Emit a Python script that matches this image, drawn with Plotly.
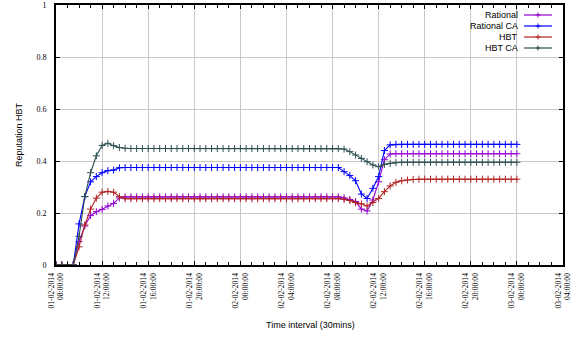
import pandas as pd
import plotly.graph_objects as go

# ---- data ----
start_time = "2014-02-01 08:00:00"
n_points = 81  # half-hour samples, 08:00 day 1 -> 00:00 day 3

rational = [0, 0, 0, 0, 0.09, 0.15, 0.19, 0.205, 0.214, 0.227, 0.237, 0.258,
            0.262, 0.262, 0.262, 0.262, 0.262, 0.262, 0.262, 0.262, 0.262, 0.262,
            0.262, 0.262, 0.262, 0.262, 0.262, 0.262, 0.262, 0.262, 0.262, 0.262,
            0.262, 0.262, 0.262, 0.262, 0.262, 0.262, 0.262, 0.262, 0.262, 0.262,
            0.262, 0.262, 0.262, 0.262, 0.262, 0.262, 0.262, 0.262,
            0.258, 0.252, 0.244, 0.215, 0.208, 0.25, 0.32, 0.405, 0.427,
            0.428, 0.428, 0.428, 0.428, 0.428, 0.428, 0.428, 0.428, 0.428, 0.428,
            0.428, 0.428, 0.428, 0.428, 0.428, 0.428, 0.428, 0.428, 0.428, 0.428,
            0.428, 0.428]

rational_ca = [0, 0, 0, 0, 0.158, 0.263, 0.32, 0.34, 0.355, 0.363, 0.365, 0.374,
               0.375, 0.375, 0.375, 0.375, 0.375, 0.375, 0.375, 0.375, 0.375, 0.375,
               0.375, 0.375, 0.375, 0.375, 0.375, 0.375, 0.375, 0.375, 0.375, 0.375,
               0.375, 0.375, 0.375, 0.375, 0.375, 0.375, 0.375, 0.375, 0.375, 0.375,
               0.375, 0.375, 0.375, 0.375, 0.375, 0.375, 0.375, 0.375,
               0.359, 0.344, 0.324, 0.273, 0.256, 0.295, 0.34, 0.44, 0.462,
               0.464, 0.464, 0.464, 0.464, 0.464, 0.464, 0.464, 0.464, 0.464, 0.464,
               0.464, 0.464, 0.464, 0.464, 0.464, 0.464, 0.464, 0.464, 0.464, 0.464,
               0.464, 0.464]

hbt = [0, 0, 0, 0, 0.07, 0.154, 0.215, 0.257, 0.28, 0.283, 0.28, 0.263,
       0.255, 0.255, 0.255, 0.255, 0.255, 0.255, 0.255, 0.255, 0.255, 0.255,
       0.255, 0.255, 0.255, 0.255, 0.255, 0.255, 0.255, 0.255, 0.255, 0.255,
       0.255, 0.255, 0.255, 0.255, 0.255, 0.255, 0.255, 0.255, 0.255, 0.255,
       0.255, 0.255, 0.255, 0.255, 0.255, 0.255, 0.255, 0.255,
       0.252, 0.248, 0.24, 0.235, 0.227, 0.24, 0.256, 0.282, 0.304,
       0.318, 0.324, 0.327, 0.329, 0.33, 0.33, 0.33, 0.33, 0.33, 0.33,
       0.33, 0.33, 0.33, 0.33, 0.33, 0.33, 0.33, 0.33, 0.33, 0.33,
       0.33, 0.33]

hbt_ca = [0, 0, 0, 0, 0.11, 0.263, 0.355, 0.42, 0.46, 0.468, 0.459, 0.452,
          0.449, 0.448, 0.448, 0.448, 0.448, 0.448, 0.448, 0.448, 0.448, 0.448,
          0.448, 0.448, 0.448, 0.448, 0.448, 0.448, 0.448, 0.448, 0.448, 0.448,
          0.448, 0.448, 0.448, 0.448, 0.448, 0.448, 0.448, 0.448, 0.448, 0.448,
          0.448, 0.448, 0.448, 0.448, 0.448, 0.448, 0.448, 0.448,
          0.446, 0.436, 0.423, 0.41, 0.397, 0.385, 0.378, 0.387, 0.391,
          0.394, 0.395, 0.395, 0.395, 0.395, 0.395, 0.395, 0.395, 0.395, 0.395,
          0.395, 0.395, 0.395, 0.395, 0.395, 0.395, 0.395, 0.395, 0.395, 0.395,
          0.395, 0.395]

series_names = ["Rational", "Rational CA", "HBT", "HBT CA"]
series_values = [rational, rational_ca, hbt, hbt_ca]
series_colors = ["#9400d3", "#0000ff", "#b22222", "#2f4f4f"]

tick_vals = ["2014-02-01 08:00:00", "2014-02-01 12:00:00", "2014-02-01 16:00:00",
             "2014-02-01 20:00:00", "2014-02-02 00:00:00", "2014-02-02 04:00:00",
             "2014-02-02 08:00:00", "2014-02-02 12:00:00", "2014-02-02 16:00:00",
             "2014-02-02 20:00:00", "2014-02-03 00:00:00", "2014-02-03 04:00:00"]
tick_text = ["01-02-2014<br>08:00:00", "01-02-2014<br>12:00:00", "01-02-2014<br>16:00:00",
             "01-02-2014<br>20:00:00", "02-02-2014<br>00:00:00", "02-02-2014<br>04:00:00",
             "02-02-2014<br>08:00:00", "02-02-2014<br>12:00:00", "02-02-2014<br>16:00:00",
             "02-02-2014<br>20:00:00", "03-02-2014<br>00:00:00", "03-02-2014<br>04:00:00"]
y_tick_vals = [0, 0.2, 0.4, 0.6, 0.8, 1]
y_tick_text = ["0", "0.2", "0.4", "0.6", "0.8", "1"]

times = pd.date_range(start_time, periods=n_points, freq="30min")

fig = go.Figure()
for name, vals, col in zip(series_names, series_values, series_colors):
    fig.add_trace(go.Scatter(
        x=times, y=vals, name=name, mode="lines+markers",
        line=dict(color=col, width=1.1),
        marker=dict(symbol="cross-thin", size=5, line=dict(width=1, color=col)),
        showlegend=False,
    ))

# ---- manual gnuplot-style legend (text right, sample on the right) ----
L, T, W, H = 56, 5, 507, 260
def px(xp):
    return (xp - L) / W
def py(yp):
    return (T + H - yp) / H

shapes = []
annotations = []
legend_rows = [15, 26, 37, 48]
for name, col, ry in zip(series_names, series_colors, legend_rows):
    annotations.append(dict(x=px(520), y=py(ry), xref="paper", yref="paper",
                            text=name, showarrow=False, xanchor="right", yanchor="middle",
                            font=dict(family="Liberation Sans, Arial", size=9, color="#000")))
    shapes.append(dict(type="line", xref="paper", yref="paper",
                       x0=px(524), x1=px(552), y0=py(ry), y1=py(ry),
                       line=dict(color=col, width=1.2)))
    shapes.append(dict(type="line", xref="paper", yref="paper",
                       x0=px(538 - 2.5), x1=px(538 + 2.5), y0=py(ry), y1=py(ry),
                       line=dict(color=col, width=1)))
    shapes.append(dict(type="line", xref="paper", yref="paper",
                       x0=px(538), x1=px(538), y0=py(ry - 2.5), y1=py(ry + 2.5),
                       line=dict(color=col, width=1)))

annotations.append(dict(x=px(310), y=py(325), xref="paper", yref="paper",
                        text="Time interval (30mins)", showarrow=False,
                        xanchor="center", yanchor="middle",
                        font=dict(family="Liberation Sans, Arial", size=9, color="#000")))
annotations.append(dict(x=px(19), y=py(135), xref="paper", yref="paper",
                        text="Reputation HBT", showarrow=False, textangle=-90,
                        xanchor="center", yanchor="middle",
                        font=dict(family="Liberation Sans, Arial", size=9, color="#000")))

fig.update_layout(
    width=585, height=339,
    margin=dict(l=L, r=585 - L - W, t=T, b=339 - T - H, autoexpand=False),
    paper_bgcolor="white", plot_bgcolor="white",
    shapes=shapes, annotations=annotations,
    showlegend=False,
)
fig.update_xaxes(
    type="date",
    range=["2014-02-01 08:00:00", "2014-02-03 04:00:00"],
    tickvals=tick_vals, ticktext=tick_text, tickangle=-90,
    tickfont=dict(family="Liberation Serif, Times New Roman", size=7.6, color="#000"),
    ticklabelstandoff=3,
    showgrid=True, gridcolor="#c8c8c8", gridwidth=1,
    showline=True, linecolor="#000", linewidth=2, mirror="allticks",
    ticks="inside", ticklen=4, tickcolor="#000", tickwidth=1,
    minor=dict(dtick=3600000, ticks="inside", ticklen=3, tickcolor="#000", showgrid=False),
    zeroline=False, automargin=False, fixedrange=True,
)
fig.update_yaxes(
    range=[0, 1],
    tickvals=y_tick_vals, ticktext=y_tick_text,
    tickfont=dict(family="Liberation Serif, Times New Roman", size=8, color="#000"),
    showgrid=True, gridcolor="#c8c8c8", gridwidth=1,
    showline=True, linecolor="#000", linewidth=2, mirror="allticks",
    ticks="inside", ticklen=4, tickcolor="#000", tickwidth=1,
    ticklabelstandoff=6,
    zeroline=False, automargin=False, fixedrange=True,
)

fig.write_html("out.html", config={"displayModeBar": False},
               post_script="document.body.style.margin='0px';")
